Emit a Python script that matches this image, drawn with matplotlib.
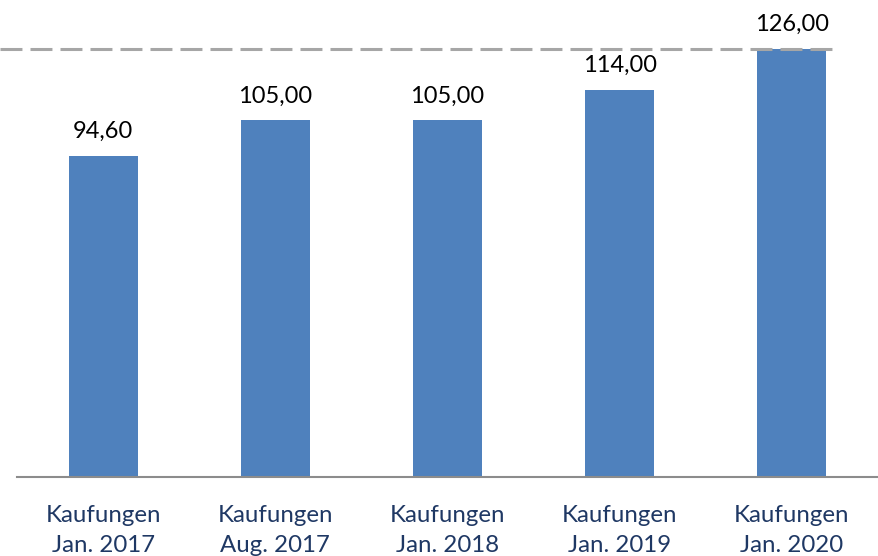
import matplotlib.pyplot as plt

plt.rcParams['font.family'] = ['Lato', 'DejaVu Sans']
plt.rcParams['lines.scale_dashes'] = False

labels = ['Kaufungen\nJan. 2017', 'Kaufungen\nAug. 2017', 'Kaufungen\nJan. 2018',
          'Kaufungen\nJan. 2019', 'Kaufungen\nJan. 2020']
values = [94.60, 105.00, 105.00, 114.00, 126.00]

fig = plt.figure(figsize=(8.79, 5.56), dpi=100)
ax = fig.add_axes([17 / 879, 79 / 556, 861 / 879, 477 / 556])

x = range(len(values))
bars = ax.bar(x, values, width=0.4, color='#4F81BD', zorder=2)

for b, v in zip(bars, values):
    ax.annotate(f'{v:.2f}'.replace('.', ','), (b.get_x() + b.get_width() / 2, v),
                xytext=(0, 10), textcoords='offset points',
                ha='center', va='bottom', fontsize=17, color='black')

# Referenzlinie auf Höhe des Maximalwerts
ax.hlines(max(values), -0.6, 4.28, colors='#A6A6A6', linewidth=2.2,
          linestyles=(0, (15.8, 5.8)), clip_on=False, zorder=3)

ax.set_xlim(-0.5, 4.5)
ax.set_ylim(0, 140.4)
ax.set_xticks(list(x))
ax.set_xticklabels(labels, fontsize=17.3, color='#1F3864', linespacing=1.5)
ax.tick_params(axis='x', length=0, pad=20.5)
ax.set_yticks([])
for s in ['top', 'left', 'right']:
    ax.spines[s].set_visible(False)
ax.spines['bottom'].set_color('#8C8C8C')
ax.spines['bottom'].set_linewidth(1.5)

fig.savefig('out.png', dpi=100)
